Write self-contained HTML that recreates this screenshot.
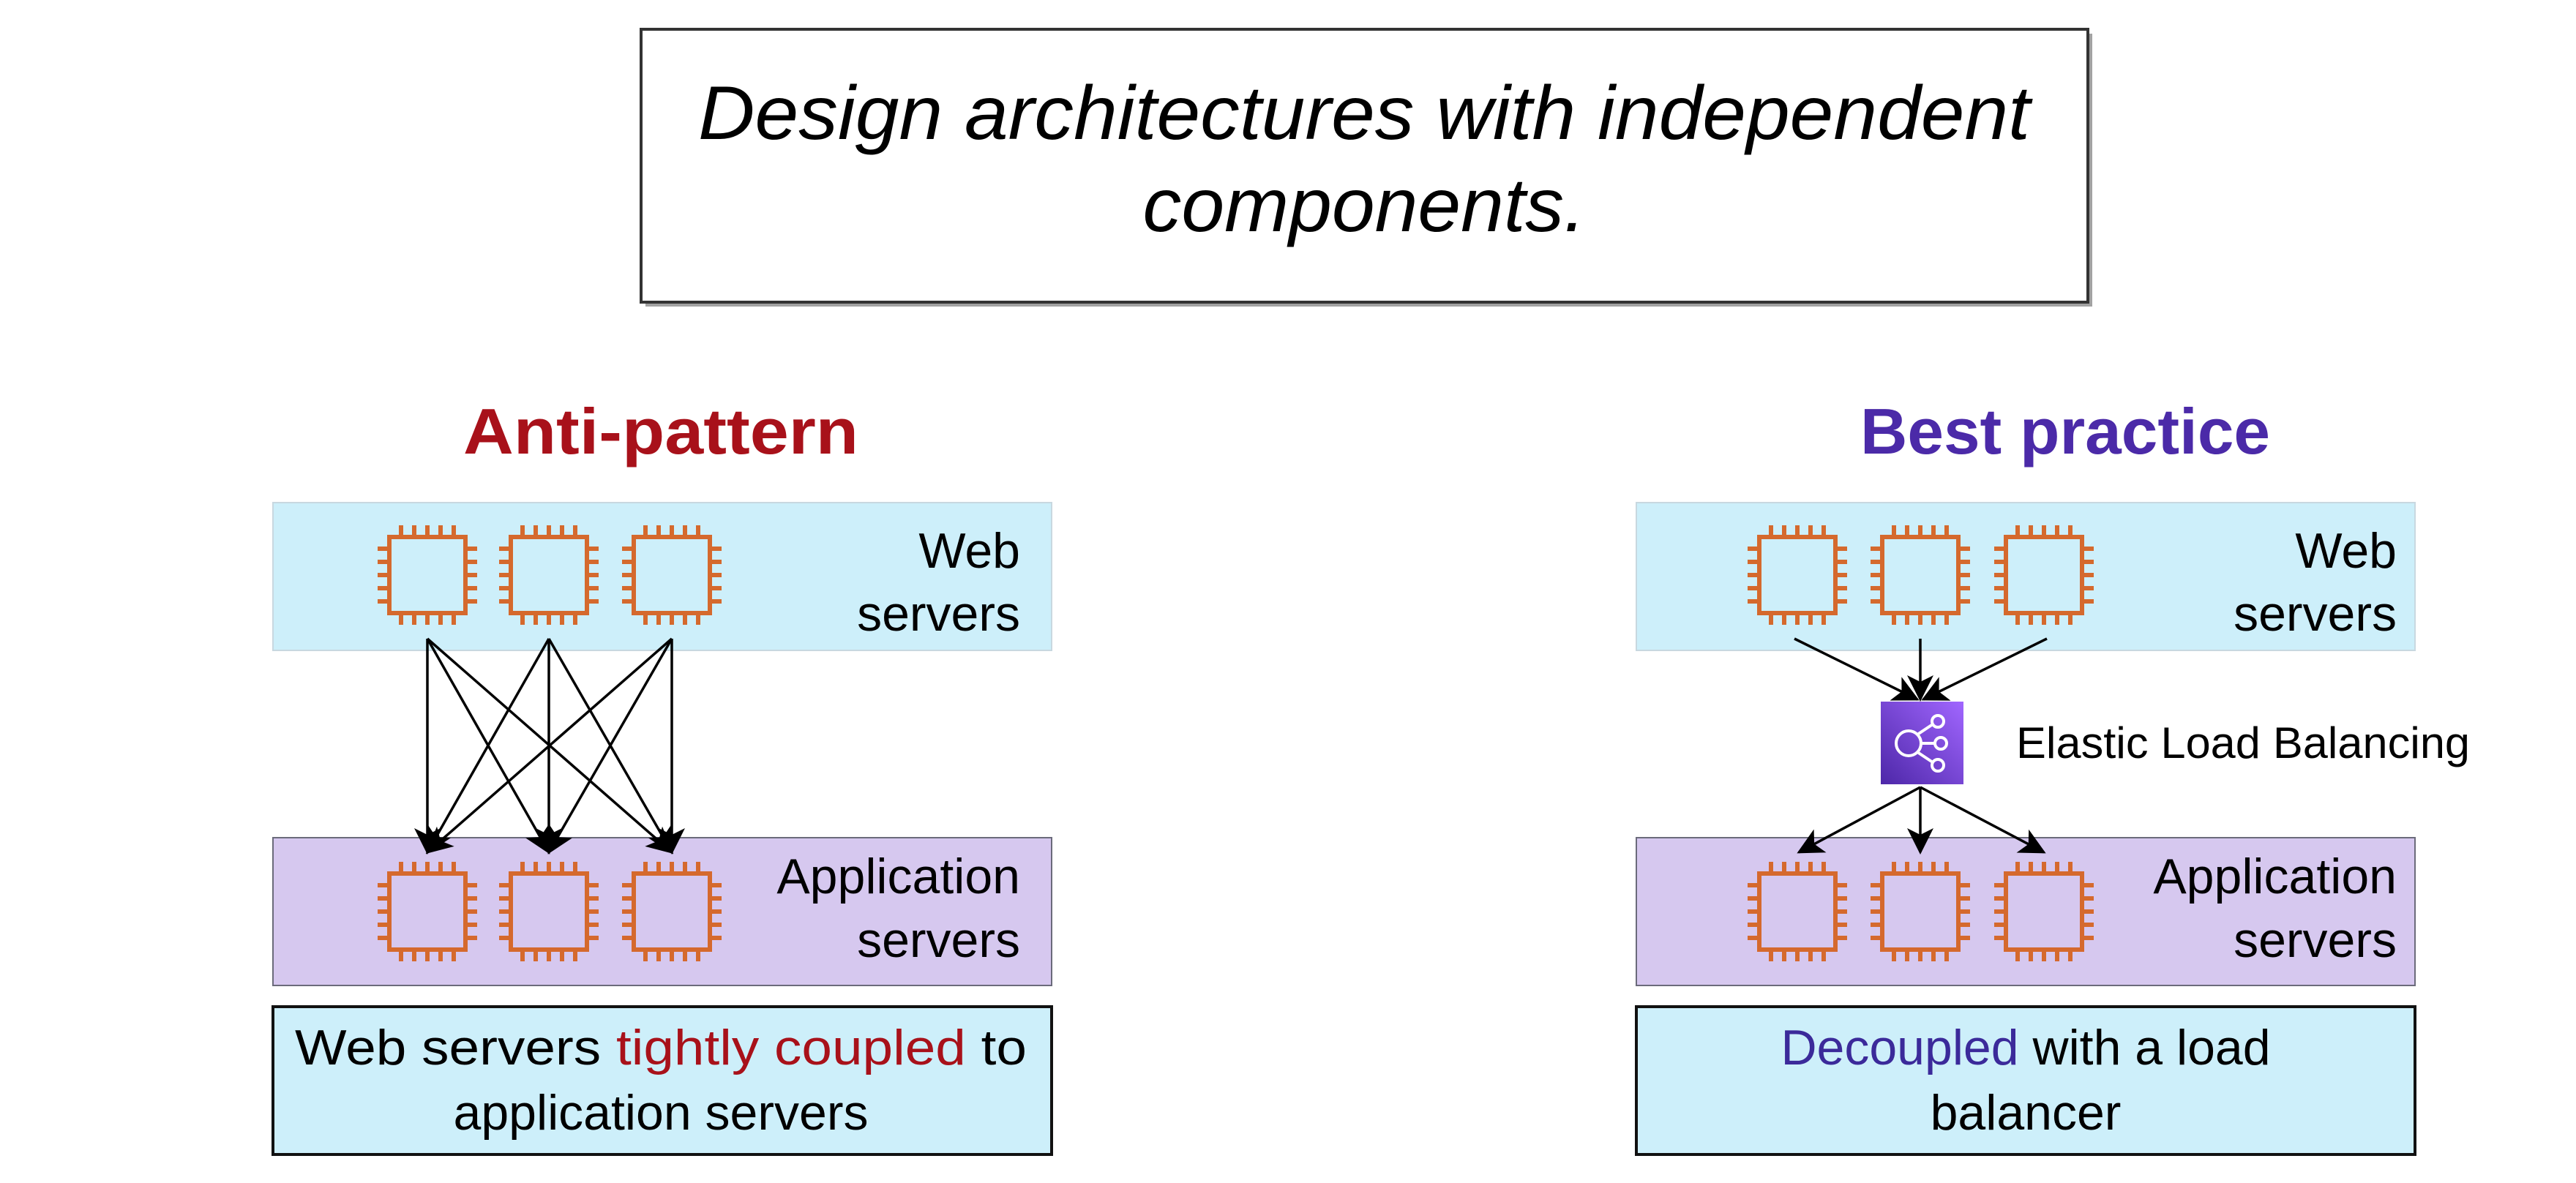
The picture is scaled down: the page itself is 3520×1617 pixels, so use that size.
<!DOCTYPE html>
<html><head><meta charset="utf-8"><style>
html,body{margin:0;padding:0;background:#fff;}
svg{display:block;}
text{font-family:"Liberation Sans",sans-serif;}
</style></head><body>
<svg width="3520" height="1617" viewBox="0 0 3520 1617" xmlns="http://www.w3.org/2000/svg">
<defs>
<g id="chip" fill="none" stroke="#d5692d" stroke-width="6">
<rect x="-52" y="-52" width="104" height="104"/>
<path d="M-36,-52v-16M-18,-52v-16M0,-52v-16M18,-52v-16M36,-52v-16
M-36,52v16M-18,52v16M0,52v16M18,52v16M36,52v16
M-52,-36h-16M-52,-18h-16M-52,0h-16M-52,18h-16M-52,36h-16
M52,-36h16M52,-18h16M52,0h16M52,18h16M52,36h16"/>
</g>
<marker id="a" viewBox="0 0 12 12" refX="11" refY="6" markerWidth="36" markerHeight="36" markerUnits="userSpaceOnUse" orient="auto">
<path d="M0,0 L12,6 L0,12 L3,6 z" fill="#000"/>
</marker>
<linearGradient id="elb" x1="0" y1="1" x2="1" y2="0">
<stop offset="0" stop-color="#4d27a8"/><stop offset="1" stop-color="#a166ff"/>
</linearGradient>
</defs>

<!-- title -->
<rect x="882" y="46" width="1977" height="373" fill="#555" opacity="0.55"/>
<rect x="876" y="40" width="1977" height="373" fill="#fff" stroke="#333" stroke-width="4"/>
<text x="1864" y="190" font-size="104" font-style="italic" text-anchor="middle" textLength="1820" lengthAdjust="spacingAndGlyphs">Design architectures with independent</text>
<text x="1864" y="316" font-size="104" font-style="italic" text-anchor="middle" textLength="605" lengthAdjust="spacingAndGlyphs">components.</text>

<!-- headings -->
<text x="903" y="620" font-size="88" font-weight="bold" fill="#a8111a" text-anchor="middle" textLength="540" lengthAdjust="spacingAndGlyphs">Anti-pattern</text>
<text x="2822" y="620" font-size="88" font-weight="bold" fill="#4b2aa8" text-anchor="middle" textLength="560" lengthAdjust="spacingAndGlyphs">Best practice</text>

<!-- LEFT -->
<rect x="373" y="687" width="1064" height="202" fill="#cdeffa" stroke="#c8d8e0" stroke-width="2"/>
<rect x="373" y="1145" width="1064" height="202" fill="#d6c8ef" stroke="#6b6b7b" stroke-width="2"/>
<rect x="373" y="1376" width="1064" height="202" fill="#cdeffa" stroke="#111" stroke-width="4"/>
<use href="#chip" x="584" y="786"/><use href="#chip" x="750" y="786"/><use href="#chip" x="918" y="786"/>
<use href="#chip" x="584" y="1246"/><use href="#chip" x="750" y="1246"/><use href="#chip" x="918" y="1246"/>
<text x="1394" y="776" font-size="68" text-anchor="end">Web</text>
<text x="1394" y="862" font-size="68" text-anchor="end">servers</text>
<text x="1394" y="1221" font-size="68" text-anchor="end">Application</text>
<text x="1394" y="1308" font-size="68" text-anchor="end">servers</text>
<text x="903" y="1455" font-size="68" text-anchor="middle" textLength="1000" lengthAdjust="spacingAndGlyphs">Web servers <tspan fill="#a8111a">tightly coupled</tspan> to</text>
<text x="903" y="1544" font-size="68" text-anchor="middle">application servers</text>
<g stroke="#000" stroke-width="3.5" fill="none" marker-end="url(#a)">
<line x1="584" y1="873" x2="584" y2="1165"/>
<line x1="584" y1="873" x2="750" y2="1165"/>
<line x1="584" y1="873" x2="918" y2="1165"/>
<line x1="750" y1="873" x2="584" y2="1165"/>
<line x1="750" y1="873" x2="750" y2="1165"/>
<line x1="750" y1="873" x2="918" y2="1165"/>
<line x1="918" y1="873" x2="584" y2="1165"/>
<line x1="918" y1="873" x2="750" y2="1165"/>
<line x1="918" y1="873" x2="918" y2="1165"/>
</g>

<!-- RIGHT -->
<rect x="2236" y="687" width="1064" height="202" fill="#cdeffa" stroke="#c8d8e0" stroke-width="2"/>
<rect x="2236" y="1145" width="1064" height="202" fill="#d6c8ef" stroke="#6b6b7b" stroke-width="2"/>
<rect x="2236" y="1376" width="1064" height="202" fill="#cdeffa" stroke="#111" stroke-width="4"/>
<use href="#chip" x="2456" y="786"/><use href="#chip" x="2624" y="786"/><use href="#chip" x="2793" y="786"/>
<use href="#chip" x="2456" y="1246"/><use href="#chip" x="2624" y="1246"/><use href="#chip" x="2793" y="1246"/>
<text x="3275" y="776" font-size="68" text-anchor="end">Web</text>
<text x="3275" y="862" font-size="68" text-anchor="end">servers</text>
<text x="3275" y="1221" font-size="68" text-anchor="end">Application</text>
<text x="3275" y="1308" font-size="68" text-anchor="end">servers</text>
<text x="2768" y="1455" font-size="68" text-anchor="middle"><tspan fill="#3b2a9a">Decoupled</tspan> with a load</text>
<text x="2768" y="1544" font-size="68" text-anchor="middle">balancer</text>

<rect x="2570" y="959" width="113" height="113" fill="url(#elb)"/>
<g fill="none" stroke="#fff" stroke-width="4">
<circle cx="2608" cy="1016" r="17"/>
<circle cx="2648" cy="986" r="8"/><circle cx="2652" cy="1016" r="8"/><circle cx="2648" cy="1046" r="8"/>
<path d="M2620,1004 L2641,990 M2625,1016 L2644,1016 M2620,1028 L2641,1042"/>
</g>
<text x="2755" y="1036" font-size="60" textLength="620" lengthAdjust="spacingAndGlyphs">Elastic Load Balancing</text>
<g stroke="#000" stroke-width="3.5" fill="none" marker-end="url(#a)">
<line x1="2452" y1="873" x2="2620" y2="956"/>
<line x1="2624" y1="873" x2="2624" y2="956"/>
<line x1="2797" y1="873" x2="2628" y2="956"/>
<line x1="2624" y1="1076" x2="2458" y2="1165"/>
<line x1="2624" y1="1076" x2="2624" y2="1165"/>
<line x1="2624" y1="1076" x2="2793" y2="1165"/>
</g>
</svg>
</body></html>
